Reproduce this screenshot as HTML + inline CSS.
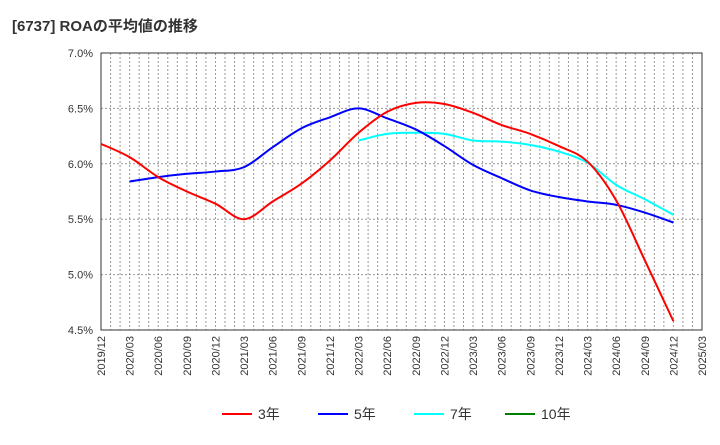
<!DOCTYPE html>
<html><head><meta charset="utf-8"><style>
body{margin:0;background:#fff;font-family:"Liberation Sans","Noto Sans CJK JP",sans-serif;}
</style></head><body>
<svg id="chart" width="720" height="440" xmlns="http://www.w3.org/2000/svg" style="font-family:'Liberation Sans','Noto Sans CJK JP',sans-serif">
<text x="12" y="31" font-size="15" font-weight="bold" fill="#333">[6737]  ROAの平均値の推移</text>
<g id="grid"></g><g id="axes"></g><g id="series"></g><g id="legend"></g>
</svg>
<script>
const xLabels=["2019/12","2020/03","2020/06","2020/09","2020/12","2021/03","2021/06","2021/09","2021/12","2022/03","2022/06","2022/09","2022/12","2023/03","2023/06","2023/09","2023/12","2024/03","2024/06","2024/09","2024/12","2025/03"];
const yTicks=[4.5,5.0,5.5,6.0,6.5,7.0];
const red3=[6.18,6.06,5.88,5.75,5.64,5.50,5.66,5.82,6.03,6.28,6.47,6.55,6.54,6.46,6.35,6.27,6.16,6.02,5.67,5.13,4.58];
const blue5=[null,5.84,5.88,5.91,5.93,5.97,6.15,6.32,6.42,6.50,6.41,6.31,6.16,5.99,5.87,5.76,5.70,5.66,5.63,5.56,5.47];
const cyan7=[null,null,null,null,null,null,null,null,null,6.21,6.27,6.28,6.27,6.21,6.20,6.17,6.11,6.01,5.81,5.68,5.54];
const green10=[];
const NS="http://www.w3.org/2000/svg";
const L=101,R=702,T=53,B=330,yMin=4.5,yMax=7.0;
const x=i=>L+i*(R-L)/63*3;
const y=v=>B-(v-yMin)/(yMax-yMin)*(B-T);
function mk(tag,attrs,parent){const e=document.createElementNS(NS,tag);for(const k in attrs)e.setAttribute(k,attrs[k]);parent.appendChild(e);return e;}
const grid=document.getElementById('grid'),axes=document.getElementById('axes'),ser=document.getElementById('series'),leg=document.getElementById('legend');
for(let m=1;m<63;m++){const gx=L+m*(R-L)/63;const l=mk('line',{x1:gx,x2:gx,y1:T,y2:B,stroke:'#999','stroke-dasharray':'2,2','stroke-width':1},grid);

}
yTicks.forEach(v=>{const gy=y(v);if(v>yMin&&v<yMax){const l=mk('line',{x1:L,x2:R,y1:gy,y2:gy,stroke:'#999','stroke-dasharray':'2,2'},grid);

}
const t=mk('text',{x:L-8,y:gy+4,'text-anchor':'end','font-size':11,fill:'#333'},axes);t.textContent=v.toFixed(1)+'%';

});
const fr=mk('rect',{x:L,y:T,width:R-L,height:B-T,fill:'none',stroke:'#333','stroke-width':1},axes);


xLabels.forEach((s,i)=>{const tx=x(i)+4,ty=B+6;const t=mk('text',{x:tx,y:ty,transform:`rotate(-90 ${tx} ${ty})`,'text-anchor':'end','font-size':11,fill:'#333'},axes);t.textContent=s;

});
function path(data){const pts=[];data.forEach((v,i)=>{if(v!=null)pts.push([x(i),y(v)]);});if(pts.length<2)return'';
let d=`M${pts[0][0]},${pts[0][1]}`;for(let i=0;i<pts.length-1;i++){const p0=pts[Math.max(0,i-1)],p1=pts[i],p2=pts[i+1],p3=pts[Math.min(pts.length-1,i+2)];
const c1=[p1[0]+(p2[0]-p0[0])/6,p1[1]+(p2[1]-p0[1])/6],c2=[p2[0]-(p3[0]-p1[0])/6,p2[1]-(p3[1]-p1[1])/6];d+=` C${c1[0]},${c1[1]} ${c2[0]},${c2[1]} ${p2[0]},${p2[1]}`;}return d;}
const series=[[green10,'#008000','series-10y'],[cyan7,'#00ffff','series-7y'],[blue5,'#0000ff','series-5y'],[red3,'#ff0000','series-3y']];
series.forEach(([d,c,n])=>{const p=path(d);if(!p)return;const e=mk('path',{d:p,fill:'none',stroke:c,'stroke-width':2},ser);

});
const legItems=[['3年','#ff0000',222],['5年','#0000ff',318],['7年','#00ffff',414],['10年','#008000',505]];
legItems.forEach(([lab,c,lx])=>{const g=mk('g',{},leg);


mk('line',{x1:lx,x2:lx+30,y1:414,y2:414,stroke:c,'stroke-width':2},g);const t=mk('text',{x:lx+36,y:419,'font-size':14,fill:'#333'},g);t.textContent=lab;});
</script>
</body></html>
